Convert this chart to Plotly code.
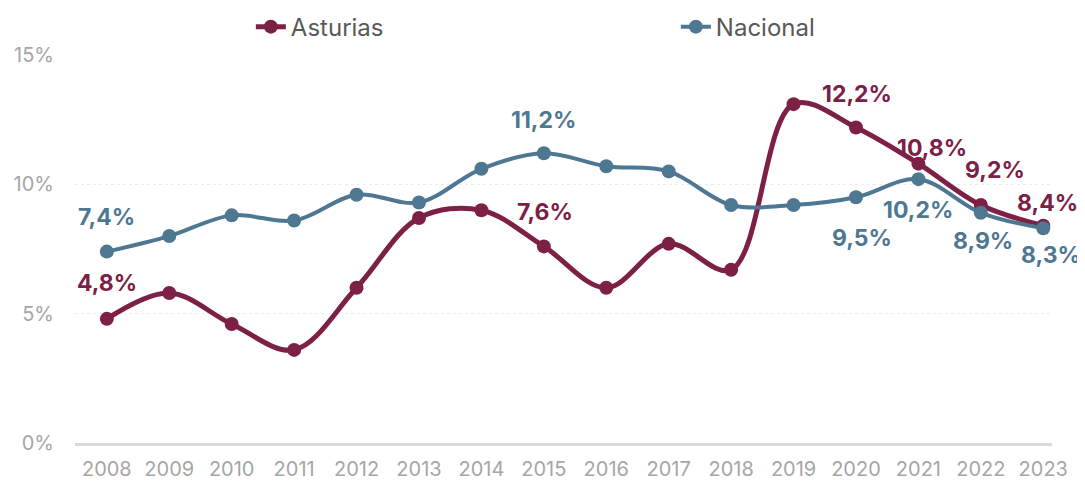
import plotly.graph_objects as go

years = [2008, 2009, 2010, 2011, 2012, 2013, 2014, 2015, 2016, 2017, 2018, 2019, 2020, 2021, 2022, 2023]
asturias = [4.8, 5.8, 4.6, 3.6, 6.0, 8.7, 9.0, 7.6, 6.0, 7.7, 6.7, 13.1, 12.2, 10.8, 9.2, 8.4]
nacional = [7.4, 8.0, 8.8, 8.6, 9.6, 9.3, 10.6, 11.2, 10.7, 10.5, 9.2, 9.2, 9.5, 10.2, 8.9, 8.3]
y_ticks = [0, 5, 10, 15]

# labelled points (index into years) with their label offsets (px)
ast_label_idx = [0, 7, 12, 13, 14, 15]
ast_label_off = [(0, 36), (1, 34), (1, 33), (14, 16), (14, 35), (4, 23)]
nac_label_idx = [0, 7, 12, 13, 14, 15]
nac_label_off = [(0, 35), (0, 33), (6, -41), (0, -31), (2, -28), (8, -27)]

C_AST = "#7C2046"
C_NAC = "#4E7792"
LBL_FONT = "Inter, Arial"

def fmt(v):
    return f"{v:.1f}".replace(".", ",") + "%"

fig = go.Figure()
fig.add_trace(go.Scatter(x=years, y=asturias, name="Asturias", mode="lines+markers",
                         line=dict(color=C_AST, width=5, shape="spline", smoothing=1.0),
                         marker=dict(size=14, color=C_AST), legend="legend"))
fig.add_trace(go.Scatter(x=years, y=nacional, name="Nacional", mode="lines+markers",
                         line=dict(color=C_NAC, width=4, shape="spline", smoothing=1.0),
                         marker=dict(size=14, color=C_NAC), legend="legend2"))

annotations = []
for idx, (dx, dy) in zip(ast_label_idx, ast_label_off):
    annotations.append(dict(x=years[idx], y=asturias[idx], text="<b>" + fmt(asturias[idx]) + "</b>",
                            showarrow=False, xshift=dx, yshift=dy,
                            font=dict(family=LBL_FONT, size=23, color=C_AST)))
for idx, (dx, dy) in zip(nac_label_idx, nac_label_off):
    annotations.append(dict(x=years[idx], y=nacional[idx], text="<b>" + fmt(nacional[idx]) + "</b>",
                            showarrow=False, xshift=dx, yshift=dy,
                            font=dict(family=LBL_FONT, size=23, color=C_NAC)))

leg_common = dict(orientation="h", xanchor="left", yanchor="middle", y=1.072,
                  font=dict(size=24, color="#595959", family="Inter, Arial"),
                  itemwidth=30, bgcolor="rgba(0,0,0,0)", tracegroupgap=0)

fig.update_layout(
    width=1077, height=476,
    margin=dict(l=67, r=33, t=47, b=41, autoexpand=False),
    paper_bgcolor="white", plot_bgcolor="white",
    font=dict(family="Inter, Arial", color="#a6a6a6", size=20),
    showlegend=True,
    legend=dict(x=0.180, **leg_common),
    legend2=dict(x=0.615, **leg_common),
    annotations=annotations,
    xaxis=dict(range=[2007.49, 2023.14], tickmode="array", tickvals=years,
               ticktext=[str(y) for y in years], showgrid=False, zeroline=False,
               showline=True, linecolor="#d9d9d9", linewidth=3, ticks="",
               ticklabelstandoff=6, tickfont=dict(size=20, color="#a6a6a6")),
    yaxis=dict(range=[0, 15], tickvals=y_ticks, ticktext=[f"{v}%" for v in y_ticks],
               showgrid=True, gridcolor="#ececec", griddash="dot", gridwidth=1,
               zeroline=False, showline=False, ticks="", ticklabelstandoff=20,
               tickfont=dict(size=20, color="#a6a6a6")),
)

fig.write_html("out.html")
